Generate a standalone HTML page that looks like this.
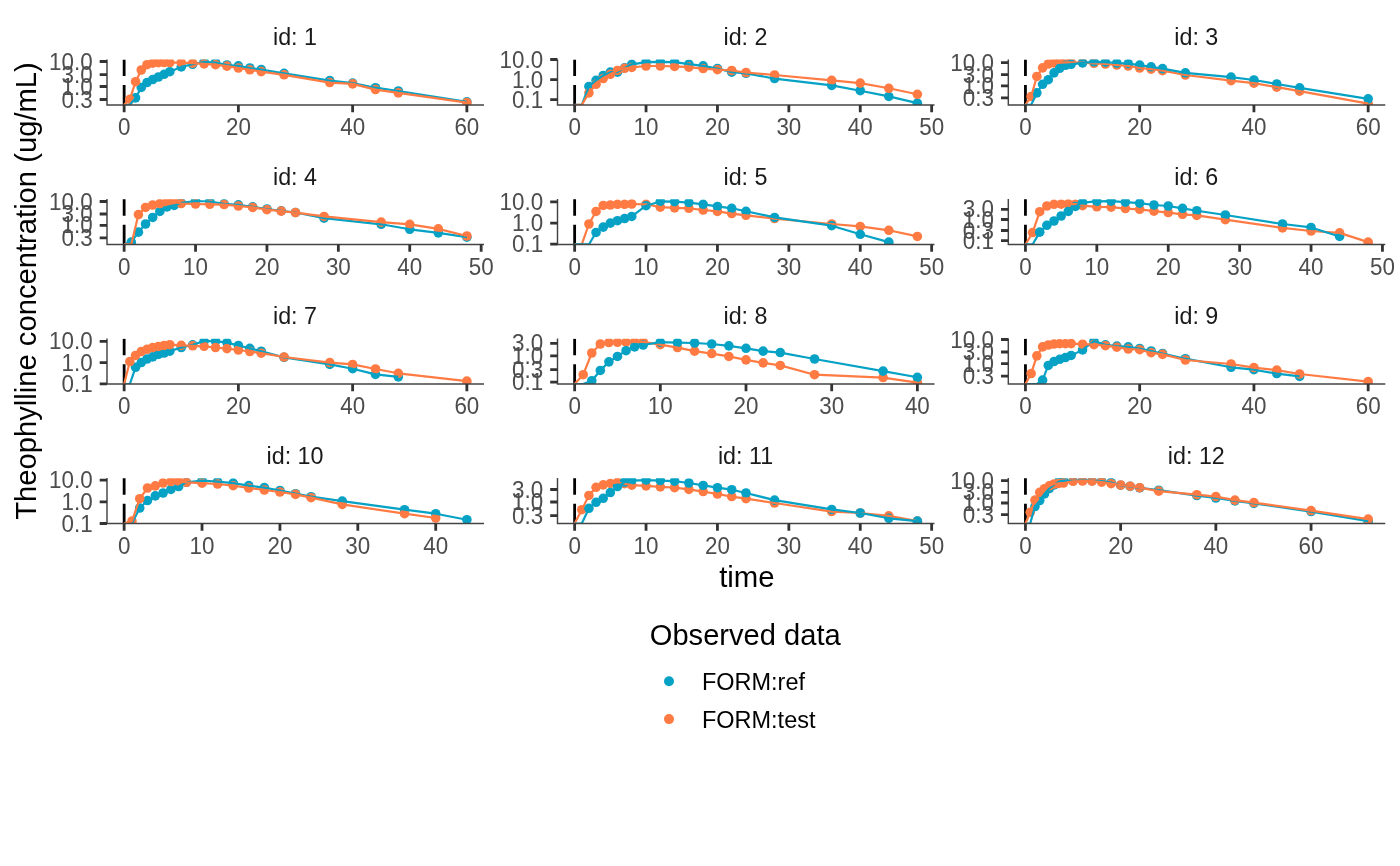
<!DOCTYPE html>
<html lang="en"><head><meta charset="utf-8"><title>Theophylline concentration</title>
<style>html,body{margin:0;padding:0;background:#fff;}body{width:1400px;height:866px;overflow:hidden;font-family:"Liberation Sans",sans-serif;}svg{display:block;}svg text{font-family:"Liberation Sans",sans-serif;}</style>
</head><body>
<svg width="1400" height="866" viewBox="0 0 1400 866">
<rect width="1400" height="866" fill="#fff"/>
<defs>
<clipPath id="c1"><rect x="107" y="59.6" width="377" height="45.3"/></clipPath>
<clipPath id="c2"><rect x="557.5" y="59.6" width="377" height="45.3"/></clipPath>
<clipPath id="c3"><rect x="1008.3" y="59.6" width="377" height="45.3"/></clipPath>
<clipPath id="c4"><rect x="107" y="199.15" width="377" height="45.3"/></clipPath>
<clipPath id="c5"><rect x="557.5" y="199.15" width="377" height="45.3"/></clipPath>
<clipPath id="c6"><rect x="1008.3" y="199.15" width="377" height="45.3"/></clipPath>
<clipPath id="c7"><rect x="107" y="338.7" width="377" height="45.3"/></clipPath>
<clipPath id="c8"><rect x="557.5" y="338.7" width="377" height="45.3"/></clipPath>
<clipPath id="c9"><rect x="1008.3" y="338.7" width="377" height="45.3"/></clipPath>
<clipPath id="c10"><rect x="107" y="478.2" width="377" height="45.3"/></clipPath>
<clipPath id="c11"><rect x="557.5" y="478.2" width="377" height="45.3"/></clipPath>
<clipPath id="c12"><rect x="1008.3" y="478.2" width="377" height="45.3"/></clipPath>
</defs>
<g id="p1">
<text transform="translate(295,45) scale(1,1)" font-size="23.3" fill="#1A1A1A" text-anchor="middle">id: 1</text>
<g clip-path="url(#c1)">
<line x1="124.14" x2="124.14" y1="59.4" y2="104.9" stroke="#000" stroke-width="2.8" stroke-dasharray="16.7 9 40 9"/>
<circle cx="135.56" cy="97.86" r="4.8" fill="#06A2C5"/>
<circle cx="141.28" cy="87.43" r="4.8" fill="#06A2C5"/>
<circle cx="146.99" cy="82.57" r="4.8" fill="#06A2C5"/>
<circle cx="152.7" cy="79.57" r="4.8" fill="#06A2C5"/>
<circle cx="158.41" cy="77" r="4.8" fill="#06A2C5"/>
<circle cx="164.13" cy="74.29" r="4.8" fill="#06A2C5"/>
<circle cx="169.84" cy="71.71" r="4.8" fill="#06A2C5"/>
<circle cx="181.26" cy="66.9" r="4.8" fill="#06A2C5"/>
<circle cx="192.69" cy="64.29" r="4.8" fill="#06A2C5"/>
<circle cx="204.11" cy="61.8" r="4.8" fill="#06A2C5"/>
<circle cx="215.53" cy="62.5" r="4.8" fill="#06A2C5"/>
<circle cx="226.96" cy="65" r="4.8" fill="#06A2C5"/>
<circle cx="238.38" cy="65.8" r="4.8" fill="#06A2C5"/>
<circle cx="249.81" cy="68" r="4.8" fill="#06A2C5"/>
<circle cx="261.23" cy="69.6" r="4.8" fill="#06A2C5"/>
<circle cx="284.08" cy="73.3" r="4.8" fill="#06A2C5"/>
<circle cx="329.78" cy="80.57" r="4.8" fill="#06A2C5"/>
<circle cx="352.63" cy="83.14" r="4.8" fill="#06A2C5"/>
<circle cx="375.48" cy="87.71" r="4.8" fill="#06A2C5"/>
<circle cx="398.32" cy="91" r="4.8" fill="#06A2C5"/>
<circle cx="466.87" cy="101.86" r="4.8" fill="#06A2C5"/>
<circle cx="129.85" cy="99.29" r="4.8" fill="#FF7B43"/>
<circle cx="135.56" cy="81.71" r="4.8" fill="#FF7B43"/>
<circle cx="141.28" cy="70" r="4.8" fill="#FF7B43"/>
<circle cx="146.99" cy="64.71" r="4.8" fill="#FF7B43"/>
<circle cx="152.7" cy="63.14" r="4.8" fill="#FF7B43"/>
<circle cx="158.41" cy="62.71" r="4.8" fill="#FF7B43"/>
<circle cx="164.13" cy="62.57" r="4.8" fill="#FF7B43"/>
<circle cx="169.84" cy="62.57" r="4.8" fill="#FF7B43"/>
<circle cx="181.26" cy="62.71" r="4.8" fill="#FF7B43"/>
<circle cx="192.69" cy="63.14" r="4.8" fill="#FF7B43"/>
<circle cx="204.11" cy="63.86" r="4.8" fill="#FF7B43"/>
<circle cx="215.53" cy="64.71" r="4.8" fill="#FF7B43"/>
<circle cx="226.96" cy="66.14" r="4.8" fill="#FF7B43"/>
<circle cx="238.38" cy="68" r="4.8" fill="#FF7B43"/>
<circle cx="249.81" cy="69.8" r="4.8" fill="#FF7B43"/>
<circle cx="261.23" cy="71.6" r="4.8" fill="#FF7B43"/>
<circle cx="284.08" cy="74.8" r="4.8" fill="#FF7B43"/>
<circle cx="329.78" cy="82.57" r="4.8" fill="#FF7B43"/>
<circle cx="352.63" cy="83.86" r="4.8" fill="#FF7B43"/>
<circle cx="375.48" cy="89.57" r="4.8" fill="#FF7B43"/>
<circle cx="398.32" cy="92.86" r="4.8" fill="#FF7B43"/>
<circle cx="466.87" cy="102.57" r="4.8" fill="#FF7B43"/>
<polyline points="124.14,104.9 129.85,104.9 135.56,97.86 141.28,87.43 146.99,82.57 152.7,79.57 158.41,77 164.13,74.29 169.84,71.71 181.26,66.9 192.69,64.29 204.11,61.8 215.53,62.5 226.96,65 238.38,65.8 249.81,68 261.23,69.6 284.08,73.3 329.78,80.57 352.63,83.14 375.48,87.71 398.32,91 466.87,101.86" fill="none" stroke="#06A2C5" stroke-width="2.2" stroke-linejoin="round" stroke-linecap="butt"/>
<polyline points="124.14,104.9 129.85,99.29 135.56,81.71 141.28,70 146.99,64.71 152.7,63.14 158.41,62.71 164.13,62.57 169.84,62.57 181.26,62.71 192.69,63.14 204.11,63.86 215.53,64.71 226.96,66.14 238.38,68 249.81,69.8 261.23,71.6 284.08,74.8 329.78,82.57 352.63,83.86 375.48,89.57 398.32,92.86 466.87,102.57" fill="none" stroke="#FF7B43" stroke-width="2.2" stroke-linejoin="round" stroke-linecap="butt"/>
</g>
<path d="M107 59.4V104.9H484" fill="none" stroke="#444444" stroke-width="1.45"/>
<path d="M99.7 61.5H107M99.7 74.55H107M99.7 86.5H107M99.7 99.5H107M124.14 104.9V112.2M238.38 104.9V112.2M352.63 104.9V112.2M466.87 104.9V112.2" stroke="#333333" stroke-width="2.8" fill="none"/>
<text transform="translate(92.6,69.5) scale(1,1.05)" font-size="22.4" fill="#4D4D4D" text-anchor="end">10.0</text>
<text transform="translate(92.6,82.55) scale(1,1.05)" font-size="22.4" fill="#4D4D4D" text-anchor="end">3.0</text>
<text transform="translate(92.6,94.5) scale(1,1.05)" font-size="22.4" fill="#4D4D4D" text-anchor="end">1.0</text>
<text transform="translate(92.6,107.5) scale(1,1.05)" font-size="22.4" fill="#4D4D4D" text-anchor="end">0.3</text>
<text transform="translate(124.14,135.3) scale(1,1.05)" font-size="22.4" fill="#4D4D4D" text-anchor="middle">0</text>
<text transform="translate(238.38,135.3) scale(1,1.05)" font-size="22.4" fill="#4D4D4D" text-anchor="middle">20</text>
<text transform="translate(352.63,135.3) scale(1,1.05)" font-size="22.4" fill="#4D4D4D" text-anchor="middle">40</text>
<text transform="translate(466.87,135.3) scale(1,1.05)" font-size="22.4" fill="#4D4D4D" text-anchor="middle">60</text>
</g>
<g id="p2">
<text transform="translate(745.5,45) scale(1,1)" font-size="23.3" fill="#1A1A1A" text-anchor="middle">id: 2</text>
<g clip-path="url(#c2)">
<line x1="574.64" x2="574.64" y1="59.4" y2="104.9" stroke="#000" stroke-width="2.8" stroke-dasharray="16.7 9 40 9"/>
<circle cx="588.92" cy="86.43" r="4.8" fill="#06A2C5"/>
<circle cx="596.06" cy="80.29" r="4.8" fill="#06A2C5"/>
<circle cx="603.2" cy="75.43" r="4.8" fill="#06A2C5"/>
<circle cx="610.34" cy="72.14" r="4.8" fill="#06A2C5"/>
<circle cx="617.48" cy="72.14" r="4.8" fill="#06A2C5"/>
<circle cx="624.62" cy="67.86" r="4.8" fill="#06A2C5"/>
<circle cx="631.76" cy="64.3" r="4.8" fill="#06A2C5"/>
<circle cx="646.04" cy="62.14" r="4.8" fill="#06A2C5"/>
<circle cx="660.32" cy="61.86" r="4.8" fill="#06A2C5"/>
<circle cx="674.6" cy="62.14" r="4.8" fill="#06A2C5"/>
<circle cx="688.88" cy="64.2" r="4.8" fill="#06A2C5"/>
<circle cx="703.16" cy="65.9" r="4.8" fill="#06A2C5"/>
<circle cx="717.44" cy="68.5" r="4.8" fill="#06A2C5"/>
<circle cx="731.72" cy="72.14" r="4.8" fill="#06A2C5"/>
<circle cx="746" cy="73.3" r="4.8" fill="#06A2C5"/>
<circle cx="774.57" cy="78.57" r="4.8" fill="#06A2C5"/>
<circle cx="831.69" cy="85.43" r="4.8" fill="#06A2C5"/>
<circle cx="860.25" cy="90.71" r="4.8" fill="#06A2C5"/>
<circle cx="888.81" cy="96.43" r="4.8" fill="#06A2C5"/>
<circle cx="917.37" cy="103.14" r="4.8" fill="#06A2C5"/>
<circle cx="588.92" cy="92.86" r="4.8" fill="#FF7B43"/>
<circle cx="596.06" cy="84.29" r="4.8" fill="#FF7B43"/>
<circle cx="603.2" cy="78.57" r="4.8" fill="#FF7B43"/>
<circle cx="610.34" cy="74.29" r="4.8" fill="#FF7B43"/>
<circle cx="617.48" cy="70.43" r="4.8" fill="#FF7B43"/>
<circle cx="624.62" cy="68.29" r="4.8" fill="#FF7B43"/>
<circle cx="631.76" cy="67.43" r="4.8" fill="#FF7B43"/>
<circle cx="646.04" cy="66" r="4.8" fill="#FF7B43"/>
<circle cx="660.32" cy="66" r="4.8" fill="#FF7B43"/>
<circle cx="674.6" cy="66.43" r="4.8" fill="#FF7B43"/>
<circle cx="688.88" cy="67.14" r="4.8" fill="#FF7B43"/>
<circle cx="703.16" cy="68.57" r="4.8" fill="#FF7B43"/>
<circle cx="717.44" cy="69.71" r="4.8" fill="#FF7B43"/>
<circle cx="731.72" cy="70.5" r="4.8" fill="#FF7B43"/>
<circle cx="746" cy="72.5" r="4.8" fill="#FF7B43"/>
<circle cx="774.57" cy="75" r="4.8" fill="#FF7B43"/>
<circle cx="831.69" cy="80.29" r="4.8" fill="#FF7B43"/>
<circle cx="860.25" cy="83.14" r="4.8" fill="#FF7B43"/>
<circle cx="888.81" cy="88.29" r="4.8" fill="#FF7B43"/>
<circle cx="917.37" cy="94.29" r="4.8" fill="#FF7B43"/>
<polyline points="574.64,104.9 581.78,104.9 588.92,86.43 596.06,80.29 603.2,75.43 610.34,72.14 617.48,72.14 624.62,67.86 631.76,64.3 646.04,62.14 660.32,61.86 674.6,62.14 688.88,64.2 703.16,65.9 717.44,68.5 731.72,72.14 746,73.3 774.57,78.57 831.69,85.43 860.25,90.71 888.81,96.43 917.37,103.14" fill="none" stroke="#06A2C5" stroke-width="2.2" stroke-linejoin="round" stroke-linecap="butt"/>
<polyline points="574.64,104.9 581.78,104.9 588.92,92.86 596.06,84.29 603.2,78.57 610.34,74.29 617.48,70.43 624.62,68.29 631.76,67.43 646.04,66 660.32,66 674.6,66.43 688.88,67.14 703.16,68.57 717.44,69.71 731.72,70.5 746,72.5 774.57,75 831.69,80.29 860.25,83.14 888.81,88.29 917.37,94.29" fill="none" stroke="#FF7B43" stroke-width="2.2" stroke-linejoin="round" stroke-linecap="butt"/>
</g>
<path d="M557.5 59.4V104.9H934.5" fill="none" stroke="#444444" stroke-width="1.45"/>
<path d="M550.2 59.5H557.5M550.2 79.6H557.5M550.2 99.7H557.5M574.64 104.9V112.2M646.04 104.9V112.2M717.44 104.9V112.2M788.85 104.9V112.2M860.25 104.9V112.2M931.65 104.9V112.2" stroke="#333333" stroke-width="2.8" fill="none"/>
<text transform="translate(543.1,67.5) scale(1,1.05)" font-size="22.4" fill="#4D4D4D" text-anchor="end">10.0</text>
<text transform="translate(543.1,87.6) scale(1,1.05)" font-size="22.4" fill="#4D4D4D" text-anchor="end">1.0</text>
<text transform="translate(543.1,107.7) scale(1,1.05)" font-size="22.4" fill="#4D4D4D" text-anchor="end">0.1</text>
<text transform="translate(574.64,135.3) scale(1,1.05)" font-size="22.4" fill="#4D4D4D" text-anchor="middle">0</text>
<text transform="translate(646.04,135.3) scale(1,1.05)" font-size="22.4" fill="#4D4D4D" text-anchor="middle">10</text>
<text transform="translate(717.44,135.3) scale(1,1.05)" font-size="22.4" fill="#4D4D4D" text-anchor="middle">20</text>
<text transform="translate(788.85,135.3) scale(1,1.05)" font-size="22.4" fill="#4D4D4D" text-anchor="middle">30</text>
<text transform="translate(860.25,135.3) scale(1,1.05)" font-size="22.4" fill="#4D4D4D" text-anchor="middle">40</text>
<text transform="translate(931.65,135.3) scale(1,1.05)" font-size="22.4" fill="#4D4D4D" text-anchor="middle">50</text>
</g>
<g id="p3">
<text transform="translate(1196.3,45) scale(1,1)" font-size="23.3" fill="#1A1A1A" text-anchor="middle">id: 3</text>
<g clip-path="url(#c3)">
<line x1="1025.44" x2="1025.44" y1="59.4" y2="104.9" stroke="#000" stroke-width="2.8" stroke-dasharray="16.7 9 40 9"/>
<circle cx="1031.15" cy="96.43" r="4.8" fill="#FF7B43"/>
<circle cx="1036.86" cy="76.43" r="4.8" fill="#FF7B43"/>
<circle cx="1042.58" cy="67.86" r="4.8" fill="#FF7B43"/>
<circle cx="1048.29" cy="64" r="4.8" fill="#FF7B43"/>
<circle cx="1054" cy="62.86" r="4.8" fill="#FF7B43"/>
<circle cx="1059.71" cy="62.57" r="4.8" fill="#FF7B43"/>
<circle cx="1065.43" cy="62.43" r="4.8" fill="#FF7B43"/>
<circle cx="1071.14" cy="62.43" r="4.8" fill="#FF7B43"/>
<circle cx="1082.56" cy="62.6" r="4.8" fill="#FF7B43"/>
<circle cx="1093.99" cy="63.3" r="4.8" fill="#FF7B43"/>
<circle cx="1105.41" cy="64" r="4.8" fill="#FF7B43"/>
<circle cx="1116.83" cy="65" r="4.8" fill="#FF7B43"/>
<circle cx="1128.26" cy="66" r="4.8" fill="#FF7B43"/>
<circle cx="1139.68" cy="68" r="4.8" fill="#FF7B43"/>
<circle cx="1151.11" cy="69.2" r="4.8" fill="#FF7B43"/>
<circle cx="1162.53" cy="70.7" r="4.8" fill="#FF7B43"/>
<circle cx="1185.38" cy="75" r="4.8" fill="#FF7B43"/>
<circle cx="1231.08" cy="80.71" r="4.8" fill="#FF7B43"/>
<circle cx="1253.93" cy="83.14" r="4.8" fill="#FF7B43"/>
<circle cx="1276.78" cy="87.14" r="4.8" fill="#FF7B43"/>
<circle cx="1299.62" cy="91.14" r="4.8" fill="#FF7B43"/>
<circle cx="1368.17" cy="103.57" r="4.8" fill="#FF7B43"/>
<circle cx="1036.86" cy="92.86" r="4.8" fill="#06A2C5"/>
<circle cx="1042.58" cy="84.29" r="4.8" fill="#06A2C5"/>
<circle cx="1048.29" cy="79.71" r="4.8" fill="#06A2C5"/>
<circle cx="1054" cy="72.86" r="4.8" fill="#06A2C5"/>
<circle cx="1059.71" cy="68.29" r="4.8" fill="#06A2C5"/>
<circle cx="1065.43" cy="65.29" r="4.8" fill="#06A2C5"/>
<circle cx="1071.14" cy="64.29" r="4.8" fill="#06A2C5"/>
<circle cx="1082.56" cy="62.86" r="4.8" fill="#06A2C5"/>
<circle cx="1093.99" cy="61.8" r="4.8" fill="#06A2C5"/>
<circle cx="1105.41" cy="62.2" r="4.8" fill="#06A2C5"/>
<circle cx="1116.83" cy="63" r="4.8" fill="#06A2C5"/>
<circle cx="1128.26" cy="63.7" r="4.8" fill="#06A2C5"/>
<circle cx="1139.68" cy="65.1" r="4.8" fill="#06A2C5"/>
<circle cx="1151.11" cy="66.8" r="4.8" fill="#06A2C5"/>
<circle cx="1162.53" cy="68.6" r="4.8" fill="#06A2C5"/>
<circle cx="1185.38" cy="72.8" r="4.8" fill="#06A2C5"/>
<circle cx="1231.08" cy="77.14" r="4.8" fill="#06A2C5"/>
<circle cx="1253.93" cy="80" r="4.8" fill="#06A2C5"/>
<circle cx="1276.78" cy="84" r="4.8" fill="#06A2C5"/>
<circle cx="1299.62" cy="87.86" r="4.8" fill="#06A2C5"/>
<circle cx="1368.17" cy="98.86" r="4.8" fill="#06A2C5"/>
<polyline points="1025.44,104.9 1031.15,96.43 1036.86,76.43 1042.58,67.86 1048.29,64 1054,62.86 1059.71,62.57 1065.43,62.43 1071.14,62.43 1082.56,62.6 1093.99,63.3 1105.41,64 1116.83,65 1128.26,66 1139.68,68 1151.11,69.2 1162.53,70.7 1185.38,75 1231.08,80.71 1253.93,83.14 1276.78,87.14 1299.62,91.14 1368.17,103.57" fill="none" stroke="#FF7B43" stroke-width="2.2" stroke-linejoin="round" stroke-linecap="butt"/>
<polyline points="1025.44,104.9 1031.15,104.9 1036.86,92.86 1042.58,84.29 1048.29,79.71 1054,72.86 1059.71,68.29 1065.43,65.29 1071.14,64.29 1082.56,62.86 1093.99,61.8 1105.41,62.2 1116.83,63 1128.26,63.7 1139.68,65.1 1151.11,66.8 1162.53,68.6 1185.38,72.8 1231.08,77.14 1253.93,80 1276.78,84 1299.62,87.86 1368.17,98.86" fill="none" stroke="#06A2C5" stroke-width="2.2" stroke-linejoin="round" stroke-linecap="butt"/>
</g>
<path d="M1008.3 59.4V104.9H1385.3" fill="none" stroke="#444444" stroke-width="1.45"/>
<path d="M1001 62.55H1008.3M1001 74.7H1008.3M1001 85.8H1008.3M1001 97.9H1008.3M1025.44 104.9V112.2M1139.68 104.9V112.2M1253.93 104.9V112.2M1368.17 104.9V112.2" stroke="#333333" stroke-width="2.8" fill="none"/>
<text transform="translate(993.9,70.55) scale(1,1.05)" font-size="22.4" fill="#4D4D4D" text-anchor="end">10.0</text>
<text transform="translate(993.9,82.7) scale(1,1.05)" font-size="22.4" fill="#4D4D4D" text-anchor="end">3.0</text>
<text transform="translate(993.9,93.8) scale(1,1.05)" font-size="22.4" fill="#4D4D4D" text-anchor="end">1.0</text>
<text transform="translate(993.9,105.9) scale(1,1.05)" font-size="22.4" fill="#4D4D4D" text-anchor="end">0.3</text>
<text transform="translate(1025.44,135.3) scale(1,1.05)" font-size="22.4" fill="#4D4D4D" text-anchor="middle">0</text>
<text transform="translate(1139.68,135.3) scale(1,1.05)" font-size="22.4" fill="#4D4D4D" text-anchor="middle">20</text>
<text transform="translate(1253.93,135.3) scale(1,1.05)" font-size="22.4" fill="#4D4D4D" text-anchor="middle">40</text>
<text transform="translate(1368.17,135.3) scale(1,1.05)" font-size="22.4" fill="#4D4D4D" text-anchor="middle">60</text>
</g>
<g id="p4">
<text transform="translate(295,184.55) scale(1,1)" font-size="23.3" fill="#1A1A1A" text-anchor="middle">id: 4</text>
<g clip-path="url(#c4)">
<line x1="124.14" x2="124.14" y1="198.95" y2="244.45" stroke="#000" stroke-width="2.8" stroke-dasharray="16.7 9 40 9"/>
<circle cx="131.28" cy="242.14" r="4.8" fill="#06A2C5"/>
<circle cx="138.42" cy="232.14" r="4.8" fill="#06A2C5"/>
<circle cx="145.56" cy="224" r="4.8" fill="#06A2C5"/>
<circle cx="152.7" cy="217.43" r="4.8" fill="#06A2C5"/>
<circle cx="159.84" cy="211.43" r="4.8" fill="#06A2C5"/>
<circle cx="166.98" cy="206.86" r="4.8" fill="#06A2C5"/>
<circle cx="174.12" cy="205.43" r="4.8" fill="#06A2C5"/>
<circle cx="181.26" cy="202.86" r="4.8" fill="#06A2C5"/>
<circle cx="195.54" cy="201" r="4.8" fill="#06A2C5"/>
<circle cx="209.82" cy="201.5" r="4.8" fill="#06A2C5"/>
<circle cx="224.1" cy="203.8" r="4.8" fill="#06A2C5"/>
<circle cx="238.38" cy="204.8" r="4.8" fill="#06A2C5"/>
<circle cx="252.66" cy="206.8" r="4.8" fill="#06A2C5"/>
<circle cx="266.94" cy="209" r="4.8" fill="#06A2C5"/>
<circle cx="281.22" cy="210.8" r="4.8" fill="#06A2C5"/>
<circle cx="295.5" cy="212.5" r="4.8" fill="#06A2C5"/>
<circle cx="324.07" cy="218.2" r="4.8" fill="#06A2C5"/>
<circle cx="381.19" cy="224.29" r="4.8" fill="#06A2C5"/>
<circle cx="409.75" cy="229.29" r="4.8" fill="#06A2C5"/>
<circle cx="438.31" cy="232.86" r="4.8" fill="#06A2C5"/>
<circle cx="466.87" cy="237.14" r="4.8" fill="#06A2C5"/>
<circle cx="138.42" cy="214.57" r="4.8" fill="#FF7B43"/>
<circle cx="145.56" cy="207.43" r="4.8" fill="#FF7B43"/>
<circle cx="152.7" cy="205" r="4.8" fill="#FF7B43"/>
<circle cx="159.84" cy="203.57" r="4.8" fill="#FF7B43"/>
<circle cx="166.98" cy="202.14" r="4.8" fill="#FF7B43"/>
<circle cx="174.12" cy="201.71" r="4.8" fill="#FF7B43"/>
<circle cx="181.26" cy="203.57" r="4.8" fill="#FF7B43"/>
<circle cx="195.54" cy="204" r="4.8" fill="#FF7B43"/>
<circle cx="209.82" cy="204.29" r="4.8" fill="#FF7B43"/>
<circle cx="224.1" cy="204.57" r="4.8" fill="#FF7B43"/>
<circle cx="238.38" cy="206" r="4.8" fill="#FF7B43"/>
<circle cx="252.66" cy="207.43" r="4.8" fill="#FF7B43"/>
<circle cx="266.94" cy="209.71" r="4.8" fill="#FF7B43"/>
<circle cx="281.22" cy="211.14" r="4.8" fill="#FF7B43"/>
<circle cx="295.5" cy="212.57" r="4.8" fill="#FF7B43"/>
<circle cx="324.07" cy="216.43" r="4.8" fill="#FF7B43"/>
<circle cx="381.19" cy="222.14" r="4.8" fill="#FF7B43"/>
<circle cx="409.75" cy="224.29" r="4.8" fill="#FF7B43"/>
<circle cx="438.31" cy="228.86" r="4.8" fill="#FF7B43"/>
<circle cx="466.87" cy="236" r="4.8" fill="#FF7B43"/>
<polyline points="124.14,244.45 131.28,242.14 138.42,232.14 145.56,224 152.7,217.43 159.84,211.43 166.98,206.86 174.12,205.43 181.26,202.86 195.54,201 209.82,201.5 224.1,203.8 238.38,204.8 252.66,206.8 266.94,209 281.22,210.8 295.5,212.5 324.07,218.2 381.19,224.29 409.75,229.29 438.31,232.86 466.87,237.14" fill="none" stroke="#06A2C5" stroke-width="2.2" stroke-linejoin="round" stroke-linecap="butt"/>
<polyline points="124.14,244.45 131.28,244.45 138.42,214.57 145.56,207.43 152.7,205 159.84,203.57 166.98,202.14 174.12,201.71 181.26,203.57 195.54,204 209.82,204.29 224.1,204.57 238.38,206 252.66,207.43 266.94,209.71 281.22,211.14 295.5,212.57 324.07,216.43 381.19,222.14 409.75,224.29 438.31,228.86 466.87,236" fill="none" stroke="#FF7B43" stroke-width="2.2" stroke-linejoin="round" stroke-linecap="butt"/>
</g>
<path d="M107 198.95V244.45H484" fill="none" stroke="#444444" stroke-width="1.45"/>
<path d="M99.7 201.5H107M99.7 214H107M99.7 225.4H107M99.7 237.8H107M124.14 244.45V251.75M195.54 244.45V251.75M266.94 244.45V251.75M338.35 244.45V251.75M409.75 244.45V251.75M481.15 244.45V251.75" stroke="#333333" stroke-width="2.8" fill="none"/>
<text transform="translate(92.6,209.5) scale(1,1.05)" font-size="22.4" fill="#4D4D4D" text-anchor="end">10.0</text>
<text transform="translate(92.6,222) scale(1,1.05)" font-size="22.4" fill="#4D4D4D" text-anchor="end">3.0</text>
<text transform="translate(92.6,233.4) scale(1,1.05)" font-size="22.4" fill="#4D4D4D" text-anchor="end">1.0</text>
<text transform="translate(92.6,245.8) scale(1,1.05)" font-size="22.4" fill="#4D4D4D" text-anchor="end">0.3</text>
<text transform="translate(124.14,274.85) scale(1,1.05)" font-size="22.4" fill="#4D4D4D" text-anchor="middle">0</text>
<text transform="translate(195.54,274.85) scale(1,1.05)" font-size="22.4" fill="#4D4D4D" text-anchor="middle">10</text>
<text transform="translate(266.94,274.85) scale(1,1.05)" font-size="22.4" fill="#4D4D4D" text-anchor="middle">20</text>
<text transform="translate(338.35,274.85) scale(1,1.05)" font-size="22.4" fill="#4D4D4D" text-anchor="middle">30</text>
<text transform="translate(409.75,274.85) scale(1,1.05)" font-size="22.4" fill="#4D4D4D" text-anchor="middle">40</text>
<text transform="translate(481.15,274.85) scale(1,1.05)" font-size="22.4" fill="#4D4D4D" text-anchor="middle">50</text>
</g>
<g id="p5">
<text transform="translate(745.5,184.55) scale(1,1)" font-size="23.3" fill="#1A1A1A" text-anchor="middle">id: 5</text>
<g clip-path="url(#c5)">
<line x1="574.64" x2="574.64" y1="198.95" y2="244.45" stroke="#000" stroke-width="2.8" stroke-dasharray="16.7 9 40 9"/>
<circle cx="588.92" cy="224" r="4.8" fill="#FF7B43"/>
<circle cx="596.06" cy="211.43" r="4.8" fill="#FF7B43"/>
<circle cx="603.2" cy="205.43" r="4.8" fill="#FF7B43"/>
<circle cx="610.34" cy="205" r="4.8" fill="#FF7B43"/>
<circle cx="617.48" cy="204.29" r="4.8" fill="#FF7B43"/>
<circle cx="624.62" cy="204.29" r="4.8" fill="#FF7B43"/>
<circle cx="631.76" cy="204" r="4.8" fill="#FF7B43"/>
<circle cx="646.04" cy="204.29" r="4.8" fill="#FF7B43"/>
<circle cx="660.32" cy="207.14" r="4.8" fill="#FF7B43"/>
<circle cx="674.6" cy="207.86" r="4.8" fill="#FF7B43"/>
<circle cx="688.88" cy="208.29" r="4.8" fill="#FF7B43"/>
<circle cx="703.16" cy="210" r="4.8" fill="#FF7B43"/>
<circle cx="717.44" cy="211.43" r="4.8" fill="#FF7B43"/>
<circle cx="731.72" cy="213.57" r="4.8" fill="#FF7B43"/>
<circle cx="746" cy="215.29" r="4.8" fill="#FF7B43"/>
<circle cx="774.57" cy="218.57" r="4.8" fill="#FF7B43"/>
<circle cx="831.69" cy="224" r="4.8" fill="#FF7B43"/>
<circle cx="860.25" cy="226.43" r="4.8" fill="#FF7B43"/>
<circle cx="888.81" cy="230.29" r="4.8" fill="#FF7B43"/>
<circle cx="917.37" cy="236.43" r="4.8" fill="#FF7B43"/>
<circle cx="596.06" cy="232.43" r="4.8" fill="#06A2C5"/>
<circle cx="603.2" cy="227.14" r="4.8" fill="#06A2C5"/>
<circle cx="610.34" cy="223.14" r="4.8" fill="#06A2C5"/>
<circle cx="617.48" cy="220.71" r="4.8" fill="#06A2C5"/>
<circle cx="624.62" cy="218.57" r="4.8" fill="#06A2C5"/>
<circle cx="631.76" cy="216.43" r="4.8" fill="#06A2C5"/>
<circle cx="646.04" cy="205.71" r="4.8" fill="#06A2C5"/>
<circle cx="660.32" cy="201.43" r="4.8" fill="#06A2C5"/>
<circle cx="674.6" cy="201.71" r="4.8" fill="#06A2C5"/>
<circle cx="688.88" cy="202.57" r="4.8" fill="#06A2C5"/>
<circle cx="703.16" cy="204.29" r="4.8" fill="#06A2C5"/>
<circle cx="717.44" cy="206.43" r="4.8" fill="#06A2C5"/>
<circle cx="731.72" cy="208.29" r="4.8" fill="#06A2C5"/>
<circle cx="746" cy="211.29" r="4.8" fill="#06A2C5"/>
<circle cx="774.57" cy="217.43" r="4.8" fill="#06A2C5"/>
<circle cx="831.69" cy="225.71" r="4.8" fill="#06A2C5"/>
<circle cx="860.25" cy="234.29" r="4.8" fill="#06A2C5"/>
<circle cx="888.81" cy="242.14" r="4.8" fill="#06A2C5"/>
<polyline points="574.64,244.45 581.78,244.45 588.92,224 596.06,211.43 603.2,205.43 610.34,205 617.48,204.29 624.62,204.29 631.76,204 646.04,204.29 660.32,207.14 674.6,207.86 688.88,208.29 703.16,210 717.44,211.43 731.72,213.57 746,215.29 774.57,218.57 831.69,224 860.25,226.43 888.81,230.29 917.37,236.43" fill="none" stroke="#FF7B43" stroke-width="2.2" stroke-linejoin="round" stroke-linecap="butt"/>
<polyline points="574.64,244.45 581.78,244.45 588.92,244.45 596.06,232.43 603.2,227.14 610.34,223.14 617.48,220.71 624.62,218.57 631.76,216.43 646.04,205.71 660.32,201.43 674.6,201.71 688.88,202.57 703.16,204.29 717.44,206.43 731.72,208.29 746,211.29 774.57,217.43 831.69,225.71 860.25,234.29 888.81,242.14" fill="none" stroke="#06A2C5" stroke-width="2.2" stroke-linejoin="round" stroke-linecap="butt"/>
</g>
<path d="M557.5 198.95V244.45H934.5" fill="none" stroke="#444444" stroke-width="1.45"/>
<path d="M550.2 201.9H557.5M550.2 223.1H557.5M550.2 244.2H557.5M574.64 244.45V251.75M646.04 244.45V251.75M717.44 244.45V251.75M788.85 244.45V251.75M860.25 244.45V251.75M931.65 244.45V251.75" stroke="#333333" stroke-width="2.8" fill="none"/>
<text transform="translate(543.1,209.9) scale(1,1.05)" font-size="22.4" fill="#4D4D4D" text-anchor="end">10.0</text>
<text transform="translate(543.1,231.1) scale(1,1.05)" font-size="22.4" fill="#4D4D4D" text-anchor="end">1.0</text>
<text transform="translate(543.1,252.2) scale(1,1.05)" font-size="22.4" fill="#4D4D4D" text-anchor="end">0.1</text>
<text transform="translate(574.64,274.85) scale(1,1.05)" font-size="22.4" fill="#4D4D4D" text-anchor="middle">0</text>
<text transform="translate(646.04,274.85) scale(1,1.05)" font-size="22.4" fill="#4D4D4D" text-anchor="middle">10</text>
<text transform="translate(717.44,274.85) scale(1,1.05)" font-size="22.4" fill="#4D4D4D" text-anchor="middle">20</text>
<text transform="translate(788.85,274.85) scale(1,1.05)" font-size="22.4" fill="#4D4D4D" text-anchor="middle">30</text>
<text transform="translate(860.25,274.85) scale(1,1.05)" font-size="22.4" fill="#4D4D4D" text-anchor="middle">40</text>
<text transform="translate(931.65,274.85) scale(1,1.05)" font-size="22.4" fill="#4D4D4D" text-anchor="middle">50</text>
</g>
<g id="p6">
<text transform="translate(1196.3,184.55) scale(1,1)" font-size="23.3" fill="#1A1A1A" text-anchor="middle">id: 6</text>
<g clip-path="url(#c6)">
<line x1="1025.44" x2="1025.44" y1="198.95" y2="244.45" stroke="#000" stroke-width="2.8" stroke-dasharray="16.7 9 40 9"/>
<circle cx="1032.58" cy="232.57" r="4.8" fill="#FF7B43"/>
<circle cx="1039.72" cy="211.71" r="4.8" fill="#FF7B43"/>
<circle cx="1046.86" cy="206" r="4.8" fill="#FF7B43"/>
<circle cx="1054" cy="204.29" r="4.8" fill="#FF7B43"/>
<circle cx="1061.14" cy="204.2" r="4.8" fill="#FF7B43"/>
<circle cx="1068.28" cy="204" r="4.8" fill="#FF7B43"/>
<circle cx="1075.42" cy="204.2" r="4.8" fill="#FF7B43"/>
<circle cx="1082.56" cy="205.6" r="4.8" fill="#FF7B43"/>
<circle cx="1096.84" cy="206.8" r="4.8" fill="#FF7B43"/>
<circle cx="1111.12" cy="207.1" r="4.8" fill="#FF7B43"/>
<circle cx="1125.4" cy="208.57" r="4.8" fill="#FF7B43"/>
<circle cx="1139.68" cy="209.29" r="4.8" fill="#FF7B43"/>
<circle cx="1153.96" cy="211.14" r="4.8" fill="#FF7B43"/>
<circle cx="1168.24" cy="212.57" r="4.8" fill="#FF7B43"/>
<circle cx="1182.52" cy="214.29" r="4.8" fill="#FF7B43"/>
<circle cx="1196.81" cy="215.43" r="4.8" fill="#FF7B43"/>
<circle cx="1225.37" cy="219.71" r="4.8" fill="#FF7B43"/>
<circle cx="1282.49" cy="227.86" r="4.8" fill="#FF7B43"/>
<circle cx="1311.05" cy="231" r="4.8" fill="#FF7B43"/>
<circle cx="1339.61" cy="232.86" r="4.8" fill="#FF7B43"/>
<circle cx="1368.17" cy="242.14" r="4.8" fill="#FF7B43"/>
<circle cx="1039.72" cy="232.14" r="4.8" fill="#06A2C5"/>
<circle cx="1046.86" cy="225.29" r="4.8" fill="#06A2C5"/>
<circle cx="1054" cy="221" r="4.8" fill="#06A2C5"/>
<circle cx="1061.14" cy="216" r="4.8" fill="#06A2C5"/>
<circle cx="1068.28" cy="211.43" r="4.8" fill="#06A2C5"/>
<circle cx="1075.42" cy="206.43" r="4.8" fill="#06A2C5"/>
<circle cx="1082.56" cy="202.57" r="4.8" fill="#06A2C5"/>
<circle cx="1096.84" cy="201.43" r="4.8" fill="#06A2C5"/>
<circle cx="1111.12" cy="201.14" r="4.8" fill="#06A2C5"/>
<circle cx="1125.4" cy="202.14" r="4.8" fill="#06A2C5"/>
<circle cx="1139.68" cy="203.14" r="4.8" fill="#06A2C5"/>
<circle cx="1153.96" cy="205" r="4.8" fill="#06A2C5"/>
<circle cx="1168.24" cy="206" r="4.8" fill="#06A2C5"/>
<circle cx="1182.52" cy="208.29" r="4.8" fill="#06A2C5"/>
<circle cx="1196.81" cy="210.71" r="4.8" fill="#06A2C5"/>
<circle cx="1225.37" cy="215" r="4.8" fill="#06A2C5"/>
<circle cx="1282.49" cy="224" r="4.8" fill="#06A2C5"/>
<circle cx="1311.05" cy="227.43" r="4.8" fill="#06A2C5"/>
<circle cx="1339.61" cy="236.43" r="4.8" fill="#06A2C5"/>
<polyline points="1025.44,244.45 1032.58,232.57 1039.72,211.71 1046.86,206 1054,204.29 1061.14,204.2 1068.28,204 1075.42,204.2 1082.56,205.6 1096.84,206.8 1111.12,207.1 1125.4,208.57 1139.68,209.29 1153.96,211.14 1168.24,212.57 1182.52,214.29 1196.81,215.43 1225.37,219.71 1282.49,227.86 1311.05,231 1339.61,232.86 1368.17,242.14" fill="none" stroke="#FF7B43" stroke-width="2.2" stroke-linejoin="round" stroke-linecap="butt"/>
<polyline points="1025.44,244.45 1032.58,244.45 1039.72,232.14 1046.86,225.29 1054,221 1061.14,216 1068.28,211.43 1075.42,206.43 1082.56,202.57 1096.84,201.43 1111.12,201.14 1125.4,202.14 1139.68,203.14 1153.96,205 1168.24,206 1182.52,208.29 1196.81,210.71 1225.37,215 1282.49,224 1311.05,227.43 1339.61,236.43" fill="none" stroke="#06A2C5" stroke-width="2.2" stroke-linejoin="round" stroke-linecap="butt"/>
</g>
<path d="M1008.3 198.95V244.45H1385.3" fill="none" stroke="#444444" stroke-width="1.45"/>
<path d="M1001 209.4H1008.3M1001 219.5H1008.3M1001 230.5H1008.3M1001 240.6H1008.3M1025.44 244.45V251.75M1096.84 244.45V251.75M1168.24 244.45V251.75M1239.65 244.45V251.75M1311.05 244.45V251.75M1382.45 244.45V251.75" stroke="#333333" stroke-width="2.8" fill="none"/>
<text transform="translate(993.9,217.4) scale(1,1.05)" font-size="22.4" fill="#4D4D4D" text-anchor="end">3.0</text>
<text transform="translate(993.9,227.5) scale(1,1.05)" font-size="22.4" fill="#4D4D4D" text-anchor="end">1.0</text>
<text transform="translate(993.9,238.5) scale(1,1.05)" font-size="22.4" fill="#4D4D4D" text-anchor="end">0.3</text>
<text transform="translate(993.9,248.6) scale(1,1.05)" font-size="22.4" fill="#4D4D4D" text-anchor="end">0.1</text>
<text transform="translate(1025.44,274.85) scale(1,1.05)" font-size="22.4" fill="#4D4D4D" text-anchor="middle">0</text>
<text transform="translate(1096.84,274.85) scale(1,1.05)" font-size="22.4" fill="#4D4D4D" text-anchor="middle">10</text>
<text transform="translate(1168.24,274.85) scale(1,1.05)" font-size="22.4" fill="#4D4D4D" text-anchor="middle">20</text>
<text transform="translate(1239.65,274.85) scale(1,1.05)" font-size="22.4" fill="#4D4D4D" text-anchor="middle">30</text>
<text transform="translate(1311.05,274.85) scale(1,1.05)" font-size="22.4" fill="#4D4D4D" text-anchor="middle">40</text>
<text transform="translate(1382.45,274.85) scale(1,1.05)" font-size="22.4" fill="#4D4D4D" text-anchor="middle">50</text>
</g>
<g id="p7">
<text transform="translate(295,324.1) scale(1,1)" font-size="23.3" fill="#1A1A1A" text-anchor="middle">id: 7</text>
<g clip-path="url(#c7)">
<line x1="124.14" x2="124.14" y1="338.5" y2="384" stroke="#000" stroke-width="2.8" stroke-dasharray="16.7 9 40 9"/>
<circle cx="135.56" cy="367.29" r="4.8" fill="#06A2C5"/>
<circle cx="141.28" cy="362.57" r="4.8" fill="#06A2C5"/>
<circle cx="146.99" cy="359" r="4.8" fill="#06A2C5"/>
<circle cx="152.7" cy="356.86" r="4.8" fill="#06A2C5"/>
<circle cx="158.41" cy="354.43" r="4.8" fill="#06A2C5"/>
<circle cx="164.13" cy="353" r="4.8" fill="#06A2C5"/>
<circle cx="169.84" cy="351.14" r="4.8" fill="#06A2C5"/>
<circle cx="181.26" cy="347.57" r="4.8" fill="#06A2C5"/>
<circle cx="192.69" cy="344.8" r="4.8" fill="#06A2C5"/>
<circle cx="204.11" cy="341.14" r="4.8" fill="#06A2C5"/>
<circle cx="215.53" cy="341.14" r="4.8" fill="#06A2C5"/>
<circle cx="226.96" cy="342.57" r="4.8" fill="#06A2C5"/>
<circle cx="238.38" cy="345.5" r="4.8" fill="#06A2C5"/>
<circle cx="249.81" cy="348.4" r="4.8" fill="#06A2C5"/>
<circle cx="261.23" cy="351.2" r="4.8" fill="#06A2C5"/>
<circle cx="284.08" cy="357.4" r="4.8" fill="#06A2C5"/>
<circle cx="329.78" cy="364.43" r="4.8" fill="#06A2C5"/>
<circle cx="352.63" cy="368.71" r="4.8" fill="#06A2C5"/>
<circle cx="375.48" cy="374.43" r="4.8" fill="#06A2C5"/>
<circle cx="398.32" cy="376.86" r="4.8" fill="#06A2C5"/>
<circle cx="129.85" cy="361.57" r="4.8" fill="#FF7B43"/>
<circle cx="135.56" cy="355.43" r="4.8" fill="#FF7B43"/>
<circle cx="141.28" cy="351.57" r="4.8" fill="#FF7B43"/>
<circle cx="146.99" cy="349.29" r="4.8" fill="#FF7B43"/>
<circle cx="152.7" cy="347.57" r="4.8" fill="#FF7B43"/>
<circle cx="158.41" cy="346.43" r="4.8" fill="#FF7B43"/>
<circle cx="164.13" cy="345.43" r="4.8" fill="#FF7B43"/>
<circle cx="169.84" cy="344.71" r="4.8" fill="#FF7B43"/>
<circle cx="181.26" cy="345.4" r="4.8" fill="#FF7B43"/>
<circle cx="192.69" cy="345.8" r="4.8" fill="#FF7B43"/>
<circle cx="204.11" cy="346.3" r="4.8" fill="#FF7B43"/>
<circle cx="215.53" cy="347.5" r="4.8" fill="#FF7B43"/>
<circle cx="226.96" cy="348.6" r="4.8" fill="#FF7B43"/>
<circle cx="238.38" cy="350" r="4.8" fill="#FF7B43"/>
<circle cx="249.81" cy="351.5" r="4.8" fill="#FF7B43"/>
<circle cx="261.23" cy="353.2" r="4.8" fill="#FF7B43"/>
<circle cx="284.08" cy="357" r="4.8" fill="#FF7B43"/>
<circle cx="329.78" cy="362.57" r="4.8" fill="#FF7B43"/>
<circle cx="352.63" cy="364.43" r="4.8" fill="#FF7B43"/>
<circle cx="375.48" cy="369" r="4.8" fill="#FF7B43"/>
<circle cx="398.32" cy="373.29" r="4.8" fill="#FF7B43"/>
<circle cx="466.87" cy="381.14" r="4.8" fill="#FF7B43"/>
<polyline points="124.14,384 129.85,384 135.56,367.29 141.28,362.57 146.99,359 152.7,356.86 158.41,354.43 164.13,353 169.84,351.14 181.26,347.57 192.69,344.8 204.11,341.14 215.53,341.14 226.96,342.57 238.38,345.5 249.81,348.4 261.23,351.2 284.08,357.4 329.78,364.43 352.63,368.71 375.48,374.43 398.32,376.86" fill="none" stroke="#06A2C5" stroke-width="2.2" stroke-linejoin="round" stroke-linecap="butt"/>
<polyline points="124.14,384 129.85,361.57 135.56,355.43 141.28,351.57 146.99,349.29 152.7,347.57 158.41,346.43 164.13,345.43 169.84,344.71 181.26,345.4 192.69,345.8 204.11,346.3 215.53,347.5 226.96,348.6 238.38,350 249.81,351.5 261.23,353.2 284.08,357 329.78,362.57 352.63,364.43 375.48,369 398.32,373.29 466.87,381.14" fill="none" stroke="#FF7B43" stroke-width="2.2" stroke-linejoin="round" stroke-linecap="butt"/>
</g>
<path d="M107 338.5V384H484" fill="none" stroke="#444444" stroke-width="1.45"/>
<path d="M99.7 341.4H107M99.7 362.6H107M99.7 383.8H107M124.14 384V391.3M238.38 384V391.3M352.63 384V391.3M466.87 384V391.3" stroke="#333333" stroke-width="2.8" fill="none"/>
<text transform="translate(92.6,349.4) scale(1,1.05)" font-size="22.4" fill="#4D4D4D" text-anchor="end">10.0</text>
<text transform="translate(92.6,370.6) scale(1,1.05)" font-size="22.4" fill="#4D4D4D" text-anchor="end">1.0</text>
<text transform="translate(92.6,391.8) scale(1,1.05)" font-size="22.4" fill="#4D4D4D" text-anchor="end">0.1</text>
<text transform="translate(124.14,414.4) scale(1,1.05)" font-size="22.4" fill="#4D4D4D" text-anchor="middle">0</text>
<text transform="translate(238.38,414.4) scale(1,1.05)" font-size="22.4" fill="#4D4D4D" text-anchor="middle">20</text>
<text transform="translate(352.63,414.4) scale(1,1.05)" font-size="22.4" fill="#4D4D4D" text-anchor="middle">40</text>
<text transform="translate(466.87,414.4) scale(1,1.05)" font-size="22.4" fill="#4D4D4D" text-anchor="middle">60</text>
</g>
<g id="p8">
<text transform="translate(745.5,324.1) scale(1,1)" font-size="23.3" fill="#1A1A1A" text-anchor="middle">id: 8</text>
<g clip-path="url(#c8)">
<line x1="574.64" x2="574.64" y1="338.5" y2="384" stroke="#000" stroke-width="2.8" stroke-dasharray="16.7 9 40 9"/>
<circle cx="583.21" cy="374.71" r="4.8" fill="#FF7B43"/>
<circle cx="591.78" cy="353" r="4.8" fill="#FF7B43"/>
<circle cx="600.34" cy="344" r="4.8" fill="#FF7B43"/>
<circle cx="608.91" cy="342.57" r="4.8" fill="#FF7B43"/>
<circle cx="617.48" cy="342.29" r="4.8" fill="#FF7B43"/>
<circle cx="626.05" cy="342.14" r="4.8" fill="#FF7B43"/>
<circle cx="634.62" cy="341.86" r="4.8" fill="#FF7B43"/>
<circle cx="643.19" cy="341.86" r="4.8" fill="#FF7B43"/>
<circle cx="660.32" cy="344.71" r="4.8" fill="#FF7B43"/>
<circle cx="677.46" cy="347.57" r="4.8" fill="#FF7B43"/>
<circle cx="694.6" cy="351.14" r="4.8" fill="#FF7B43"/>
<circle cx="711.73" cy="353.57" r="4.8" fill="#FF7B43"/>
<circle cx="728.87" cy="356.43" r="4.8" fill="#FF7B43"/>
<circle cx="746" cy="359.86" r="4.8" fill="#FF7B43"/>
<circle cx="763.14" cy="362.86" r="4.8" fill="#FF7B43"/>
<circle cx="780.28" cy="365.43" r="4.8" fill="#FF7B43"/>
<circle cx="814.55" cy="374.71" r="4.8" fill="#FF7B43"/>
<circle cx="883.1" cy="377.57" r="4.8" fill="#FF7B43"/>
<circle cx="917.37" cy="382.57" r="4.8" fill="#FF7B43"/>
<circle cx="591.78" cy="380.71" r="4.8" fill="#06A2C5"/>
<circle cx="600.34" cy="370.43" r="4.8" fill="#06A2C5"/>
<circle cx="608.91" cy="361.86" r="4.8" fill="#06A2C5"/>
<circle cx="617.48" cy="356.43" r="4.8" fill="#06A2C5"/>
<circle cx="626.05" cy="350.71" r="4.8" fill="#06A2C5"/>
<circle cx="634.62" cy="346.86" r="4.8" fill="#06A2C5"/>
<circle cx="643.19" cy="345" r="4.8" fill="#06A2C5"/>
<circle cx="660.32" cy="342.14" r="4.8" fill="#06A2C5"/>
<circle cx="677.46" cy="342.57" r="4.8" fill="#06A2C5"/>
<circle cx="694.6" cy="343" r="4.8" fill="#06A2C5"/>
<circle cx="711.73" cy="344" r="4.8" fill="#06A2C5"/>
<circle cx="728.87" cy="345.86" r="4.8" fill="#06A2C5"/>
<circle cx="746" cy="348.29" r="4.8" fill="#06A2C5"/>
<circle cx="763.14" cy="351.14" r="4.8" fill="#06A2C5"/>
<circle cx="780.28" cy="352.57" r="4.8" fill="#06A2C5"/>
<circle cx="814.55" cy="359" r="4.8" fill="#06A2C5"/>
<circle cx="883.1" cy="371.14" r="4.8" fill="#06A2C5"/>
<circle cx="917.37" cy="377.29" r="4.8" fill="#06A2C5"/>
<polyline points="574.64,384 583.21,374.71 591.78,353 600.34,344 608.91,342.57 617.48,342.29 626.05,342.14 634.62,341.86 643.19,341.86 660.32,344.71 677.46,347.57 694.6,351.14 711.73,353.57 728.87,356.43 746,359.86 763.14,362.86 780.28,365.43 814.55,374.71 883.1,377.57 917.37,382.57" fill="none" stroke="#FF7B43" stroke-width="2.2" stroke-linejoin="round" stroke-linecap="butt"/>
<polyline points="574.64,384 583.21,384 591.78,380.71 600.34,370.43 608.91,361.86 617.48,356.43 626.05,350.71 634.62,346.86 643.19,345 660.32,342.14 677.46,342.57 694.6,343 711.73,344 728.87,345.86 746,348.29 763.14,351.14 780.28,352.57 814.55,359 883.1,371.14 917.37,377.29" fill="none" stroke="#06A2C5" stroke-width="2.2" stroke-linejoin="round" stroke-linecap="butt"/>
</g>
<path d="M557.5 338.5V384H934.5" fill="none" stroke="#444444" stroke-width="1.45"/>
<path d="M550.2 343.4H557.5M550.2 355.9H557.5M550.2 369.6H557.5M550.2 382.1H557.5M574.64 384V391.3M660.32 384V391.3M746 384V391.3M831.69 384V391.3M917.37 384V391.3" stroke="#333333" stroke-width="2.8" fill="none"/>
<text transform="translate(543.1,351.4) scale(1,1.05)" font-size="22.4" fill="#4D4D4D" text-anchor="end">3.0</text>
<text transform="translate(543.1,363.9) scale(1,1.05)" font-size="22.4" fill="#4D4D4D" text-anchor="end">1.0</text>
<text transform="translate(543.1,377.6) scale(1,1.05)" font-size="22.4" fill="#4D4D4D" text-anchor="end">0.3</text>
<text transform="translate(543.1,390.1) scale(1,1.05)" font-size="22.4" fill="#4D4D4D" text-anchor="end">0.1</text>
<text transform="translate(574.64,414.4) scale(1,1.05)" font-size="22.4" fill="#4D4D4D" text-anchor="middle">0</text>
<text transform="translate(660.32,414.4) scale(1,1.05)" font-size="22.4" fill="#4D4D4D" text-anchor="middle">10</text>
<text transform="translate(746,414.4) scale(1,1.05)" font-size="22.4" fill="#4D4D4D" text-anchor="middle">20</text>
<text transform="translate(831.69,414.4) scale(1,1.05)" font-size="22.4" fill="#4D4D4D" text-anchor="middle">30</text>
<text transform="translate(917.37,414.4) scale(1,1.05)" font-size="22.4" fill="#4D4D4D" text-anchor="middle">40</text>
</g>
<g id="p9">
<text transform="translate(1196.3,324.1) scale(1,1)" font-size="23.3" fill="#1A1A1A" text-anchor="middle">id: 9</text>
<g clip-path="url(#c9)">
<line x1="1025.44" x2="1025.44" y1="338.5" y2="384" stroke="#000" stroke-width="2.8" stroke-dasharray="16.7 9 40 9"/>
<circle cx="1042.58" cy="380.14" r="4.8" fill="#06A2C5"/>
<circle cx="1048.29" cy="365.43" r="4.8" fill="#06A2C5"/>
<circle cx="1054" cy="361.57" r="4.8" fill="#06A2C5"/>
<circle cx="1059.71" cy="359.29" r="4.8" fill="#06A2C5"/>
<circle cx="1065.43" cy="357.57" r="4.8" fill="#06A2C5"/>
<circle cx="1071.14" cy="355.43" r="4.8" fill="#06A2C5"/>
<circle cx="1082.56" cy="349.9" r="4.8" fill="#06A2C5"/>
<circle cx="1093.99" cy="341.14" r="4.8" fill="#06A2C5"/>
<circle cx="1105.41" cy="344.8" r="4.8" fill="#06A2C5"/>
<circle cx="1116.83" cy="346.1" r="4.8" fill="#06A2C5"/>
<circle cx="1128.26" cy="346.9" r="4.8" fill="#06A2C5"/>
<circle cx="1139.68" cy="348.5" r="4.8" fill="#06A2C5"/>
<circle cx="1151.11" cy="351" r="4.8" fill="#06A2C5"/>
<circle cx="1162.53" cy="353.5" r="4.8" fill="#06A2C5"/>
<circle cx="1185.38" cy="358.7" r="4.8" fill="#06A2C5"/>
<circle cx="1231.08" cy="367.29" r="4.8" fill="#06A2C5"/>
<circle cx="1253.93" cy="369.71" r="4.8" fill="#06A2C5"/>
<circle cx="1276.78" cy="373.57" r="4.8" fill="#06A2C5"/>
<circle cx="1299.62" cy="376.43" r="4.8" fill="#06A2C5"/>
<circle cx="1031.15" cy="373.57" r="4.8" fill="#FF7B43"/>
<circle cx="1036.86" cy="355.86" r="4.8" fill="#FF7B43"/>
<circle cx="1042.58" cy="346.86" r="4.8" fill="#FF7B43"/>
<circle cx="1048.29" cy="345" r="4.8" fill="#FF7B43"/>
<circle cx="1054" cy="344" r="4.8" fill="#FF7B43"/>
<circle cx="1059.71" cy="343.71" r="4.8" fill="#FF7B43"/>
<circle cx="1065.43" cy="343.71" r="4.8" fill="#FF7B43"/>
<circle cx="1071.14" cy="343.6" r="4.8" fill="#FF7B43"/>
<circle cx="1082.56" cy="344.2" r="4.8" fill="#FF7B43"/>
<circle cx="1093.99" cy="344.6" r="4.8" fill="#FF7B43"/>
<circle cx="1105.41" cy="345.7" r="4.8" fill="#FF7B43"/>
<circle cx="1116.83" cy="347.2" r="4.8" fill="#FF7B43"/>
<circle cx="1128.26" cy="349" r="4.8" fill="#FF7B43"/>
<circle cx="1139.68" cy="349.7" r="4.8" fill="#FF7B43"/>
<circle cx="1151.11" cy="352.7" r="4.8" fill="#FF7B43"/>
<circle cx="1162.53" cy="354.4" r="4.8" fill="#FF7B43"/>
<circle cx="1185.38" cy="360" r="4.8" fill="#FF7B43"/>
<circle cx="1231.08" cy="364" r="4.8" fill="#FF7B43"/>
<circle cx="1253.93" cy="367.57" r="4.8" fill="#FF7B43"/>
<circle cx="1276.78" cy="370.14" r="4.8" fill="#FF7B43"/>
<circle cx="1299.62" cy="374" r="4.8" fill="#FF7B43"/>
<circle cx="1368.17" cy="381.57" r="4.8" fill="#FF7B43"/>
<polyline points="1025.44,384 1031.15,384 1036.86,384 1042.58,380.14 1048.29,365.43 1054,361.57 1059.71,359.29 1065.43,357.57 1071.14,355.43 1082.56,349.9 1093.99,341.14 1105.41,344.8 1116.83,346.1 1128.26,346.9 1139.68,348.5 1151.11,351 1162.53,353.5 1185.38,358.7 1231.08,367.29 1253.93,369.71 1276.78,373.57 1299.62,376.43" fill="none" stroke="#06A2C5" stroke-width="2.2" stroke-linejoin="round" stroke-linecap="butt"/>
<polyline points="1025.44,384 1031.15,373.57 1036.86,355.86 1042.58,346.86 1048.29,345 1054,344 1059.71,343.71 1065.43,343.71 1071.14,343.6 1082.56,344.2 1093.99,344.6 1105.41,345.7 1116.83,347.2 1128.26,349 1139.68,349.7 1151.11,352.7 1162.53,354.4 1185.38,360 1231.08,364 1253.93,367.57 1276.78,370.14 1299.62,374 1368.17,381.57" fill="none" stroke="#FF7B43" stroke-width="2.2" stroke-linejoin="round" stroke-linecap="butt"/>
</g>
<path d="M1008.3 338.5V384H1385.3" fill="none" stroke="#444444" stroke-width="1.45"/>
<path d="M1001 339.5H1008.3M1001 352H1008.3M1001 363.6H1008.3M1001 376.2H1008.3M1025.44 384V391.3M1139.68 384V391.3M1253.93 384V391.3M1368.17 384V391.3" stroke="#333333" stroke-width="2.8" fill="none"/>
<text transform="translate(993.9,347.5) scale(1,1.05)" font-size="22.4" fill="#4D4D4D" text-anchor="end">10.0</text>
<text transform="translate(993.9,360) scale(1,1.05)" font-size="22.4" fill="#4D4D4D" text-anchor="end">3.0</text>
<text transform="translate(993.9,371.6) scale(1,1.05)" font-size="22.4" fill="#4D4D4D" text-anchor="end">1.0</text>
<text transform="translate(993.9,384.2) scale(1,1.05)" font-size="22.4" fill="#4D4D4D" text-anchor="end">0.3</text>
<text transform="translate(1025.44,414.4) scale(1,1.05)" font-size="22.4" fill="#4D4D4D" text-anchor="middle">0</text>
<text transform="translate(1139.68,414.4) scale(1,1.05)" font-size="22.4" fill="#4D4D4D" text-anchor="middle">20</text>
<text transform="translate(1253.93,414.4) scale(1,1.05)" font-size="22.4" fill="#4D4D4D" text-anchor="middle">40</text>
<text transform="translate(1368.17,414.4) scale(1,1.05)" font-size="22.4" fill="#4D4D4D" text-anchor="middle">60</text>
</g>
<g id="p10">
<text transform="translate(295,463.6) scale(1,1)" font-size="23.3" fill="#1A1A1A" text-anchor="middle">id: 10</text>
<g clip-path="url(#c10)">
<line x1="124.14" x2="124.14" y1="478" y2="523.5" stroke="#000" stroke-width="2.8" stroke-dasharray="16.7 9 40 9"/>
<circle cx="139.72" cy="508" r="4.8" fill="#06A2C5"/>
<circle cx="147.51" cy="500.57" r="4.8" fill="#06A2C5"/>
<circle cx="155.3" cy="495.86" r="4.8" fill="#06A2C5"/>
<circle cx="163.09" cy="493" r="4.8" fill="#06A2C5"/>
<circle cx="170.88" cy="489.43" r="4.8" fill="#06A2C5"/>
<circle cx="178.67" cy="486.57" r="4.8" fill="#06A2C5"/>
<circle cx="186.45" cy="482.29" r="4.8" fill="#06A2C5"/>
<circle cx="202.03" cy="480.71" r="4.8" fill="#06A2C5"/>
<circle cx="217.61" cy="481.71" r="4.8" fill="#06A2C5"/>
<circle cx="233.19" cy="483.1" r="4.8" fill="#06A2C5"/>
<circle cx="248.77" cy="485.6" r="4.8" fill="#06A2C5"/>
<circle cx="264.35" cy="487.6" r="4.8" fill="#06A2C5"/>
<circle cx="279.93" cy="490.5" r="4.8" fill="#06A2C5"/>
<circle cx="295.5" cy="493.7" r="4.8" fill="#06A2C5"/>
<circle cx="311.08" cy="496.7" r="4.8" fill="#06A2C5"/>
<circle cx="342.24" cy="501.14" r="4.8" fill="#06A2C5"/>
<circle cx="404.56" cy="509.71" r="4.8" fill="#06A2C5"/>
<circle cx="435.71" cy="513.71" r="4.8" fill="#06A2C5"/>
<circle cx="466.87" cy="519.71" r="4.8" fill="#06A2C5"/>
<circle cx="131.93" cy="521.14" r="4.8" fill="#FF7B43"/>
<circle cx="139.72" cy="498.71" r="4.8" fill="#FF7B43"/>
<circle cx="147.51" cy="488" r="4.8" fill="#FF7B43"/>
<circle cx="155.3" cy="485.86" r="4.8" fill="#FF7B43"/>
<circle cx="163.09" cy="483" r="4.8" fill="#FF7B43"/>
<circle cx="170.88" cy="481.57" r="4.8" fill="#FF7B43"/>
<circle cx="178.67" cy="481.14" r="4.8" fill="#FF7B43"/>
<circle cx="186.45" cy="482.29" r="4.8" fill="#FF7B43"/>
<circle cx="202.03" cy="483.2" r="4.8" fill="#FF7B43"/>
<circle cx="217.61" cy="484" r="4.8" fill="#FF7B43"/>
<circle cx="233.19" cy="485.7" r="4.8" fill="#FF7B43"/>
<circle cx="248.77" cy="488" r="4.8" fill="#FF7B43"/>
<circle cx="264.35" cy="490" r="4.8" fill="#FF7B43"/>
<circle cx="279.93" cy="492" r="4.8" fill="#FF7B43"/>
<circle cx="295.5" cy="494.4" r="4.8" fill="#FF7B43"/>
<circle cx="311.08" cy="497.7" r="4.8" fill="#FF7B43"/>
<circle cx="342.24" cy="504.43" r="4.8" fill="#FF7B43"/>
<circle cx="404.56" cy="513.71" r="4.8" fill="#FF7B43"/>
<circle cx="435.71" cy="518" r="4.8" fill="#FF7B43"/>
<polyline points="124.14,523.5 131.93,523.5 139.72,508 147.51,500.57 155.3,495.86 163.09,493 170.88,489.43 178.67,486.57 186.45,482.29 202.03,480.71 217.61,481.71 233.19,483.1 248.77,485.6 264.35,487.6 279.93,490.5 295.5,493.7 311.08,496.7 342.24,501.14 404.56,509.71 435.71,513.71 466.87,519.71" fill="none" stroke="#06A2C5" stroke-width="2.2" stroke-linejoin="round" stroke-linecap="butt"/>
<polyline points="124.14,523.5 131.93,521.14 139.72,498.71 147.51,488 155.3,485.86 163.09,483 170.88,481.57 178.67,481.14 186.45,482.29 202.03,483.2 217.61,484 233.19,485.7 248.77,488 264.35,490 279.93,492 295.5,494.4 311.08,497.7 342.24,504.43 404.56,513.71 435.71,518" fill="none" stroke="#FF7B43" stroke-width="2.2" stroke-linejoin="round" stroke-linecap="butt"/>
</g>
<path d="M107 478V523.5H484" fill="none" stroke="#444444" stroke-width="1.45"/>
<path d="M99.7 480.2H107M99.7 501.8H107M99.7 523.5H107M124.14 523.5V530.8M202.03 523.5V530.8M279.93 523.5V530.8M357.82 523.5V530.8M435.71 523.5V530.8" stroke="#333333" stroke-width="2.8" fill="none"/>
<text transform="translate(92.6,488.2) scale(1,1.05)" font-size="22.4" fill="#4D4D4D" text-anchor="end">10.0</text>
<text transform="translate(92.6,509.8) scale(1,1.05)" font-size="22.4" fill="#4D4D4D" text-anchor="end">1.0</text>
<text transform="translate(92.6,531.5) scale(1,1.05)" font-size="22.4" fill="#4D4D4D" text-anchor="end">0.1</text>
<text transform="translate(124.14,553.9) scale(1,1.05)" font-size="22.4" fill="#4D4D4D" text-anchor="middle">0</text>
<text transform="translate(202.03,553.9) scale(1,1.05)" font-size="22.4" fill="#4D4D4D" text-anchor="middle">10</text>
<text transform="translate(279.93,553.9) scale(1,1.05)" font-size="22.4" fill="#4D4D4D" text-anchor="middle">20</text>
<text transform="translate(357.82,553.9) scale(1,1.05)" font-size="22.4" fill="#4D4D4D" text-anchor="middle">30</text>
<text transform="translate(435.71,553.9) scale(1,1.05)" font-size="22.4" fill="#4D4D4D" text-anchor="middle">40</text>
</g>
<g id="p11">
<text transform="translate(745.5,463.6) scale(1,1)" font-size="23.3" fill="#1A1A1A" text-anchor="middle">id: 11</text>
<g clip-path="url(#c11)">
<line x1="574.64" x2="574.64" y1="478" y2="523.5" stroke="#000" stroke-width="2.8" stroke-dasharray="16.7 9 40 9"/>
<circle cx="581.78" cy="509.71" r="4.8" fill="#FF7B43"/>
<circle cx="588.92" cy="495.43" r="4.8" fill="#FF7B43"/>
<circle cx="596.06" cy="487.29" r="4.8" fill="#FF7B43"/>
<circle cx="603.2" cy="484.86" r="4.8" fill="#FF7B43"/>
<circle cx="610.34" cy="483.43" r="4.8" fill="#FF7B43"/>
<circle cx="617.48" cy="482.29" r="4.8" fill="#FF7B43"/>
<circle cx="624.62" cy="483.71" r="4.8" fill="#FF7B43"/>
<circle cx="631.76" cy="485.14" r="4.8" fill="#FF7B43"/>
<circle cx="646.04" cy="485.86" r="4.8" fill="#FF7B43"/>
<circle cx="660.32" cy="486.86" r="4.8" fill="#FF7B43"/>
<circle cx="674.6" cy="487.71" r="4.8" fill="#FF7B43"/>
<circle cx="688.88" cy="489.43" r="4.8" fill="#FF7B43"/>
<circle cx="703.16" cy="491.57" r="4.8" fill="#FF7B43"/>
<circle cx="717.44" cy="494" r="4.8" fill="#FF7B43"/>
<circle cx="731.72" cy="496.57" r="4.8" fill="#FF7B43"/>
<circle cx="746" cy="498.71" r="4.8" fill="#FF7B43"/>
<circle cx="774.57" cy="503" r="4.8" fill="#FF7B43"/>
<circle cx="831.69" cy="511.57" r="4.8" fill="#FF7B43"/>
<circle cx="860.25" cy="513" r="4.8" fill="#FF7B43"/>
<circle cx="888.81" cy="515.86" r="4.8" fill="#FF7B43"/>
<circle cx="917.37" cy="521.14" r="4.8" fill="#FF7B43"/>
<circle cx="588.92" cy="508.29" r="4.8" fill="#06A2C5"/>
<circle cx="596.06" cy="502.29" r="4.8" fill="#06A2C5"/>
<circle cx="603.2" cy="498.29" r="4.8" fill="#06A2C5"/>
<circle cx="610.34" cy="492.57" r="4.8" fill="#06A2C5"/>
<circle cx="617.48" cy="486.57" r="4.8" fill="#06A2C5"/>
<circle cx="624.62" cy="482" r="4.8" fill="#06A2C5"/>
<circle cx="631.76" cy="480.57" r="4.8" fill="#06A2C5"/>
<circle cx="646.04" cy="480.14" r="4.8" fill="#06A2C5"/>
<circle cx="660.32" cy="480.57" r="4.8" fill="#06A2C5"/>
<circle cx="674.6" cy="481.14" r="4.8" fill="#06A2C5"/>
<circle cx="688.88" cy="483" r="4.8" fill="#06A2C5"/>
<circle cx="703.16" cy="485.43" r="4.8" fill="#06A2C5"/>
<circle cx="717.44" cy="487.71" r="4.8" fill="#06A2C5"/>
<circle cx="731.72" cy="489.71" r="4.8" fill="#06A2C5"/>
<circle cx="746" cy="493" r="4.8" fill="#06A2C5"/>
<circle cx="774.57" cy="500.14" r="4.8" fill="#06A2C5"/>
<circle cx="831.69" cy="509.43" r="4.8" fill="#06A2C5"/>
<circle cx="860.25" cy="513" r="4.8" fill="#06A2C5"/>
<circle cx="888.81" cy="518.29" r="4.8" fill="#06A2C5"/>
<circle cx="917.37" cy="521.14" r="4.8" fill="#06A2C5"/>
<polyline points="574.64,523.5 581.78,509.71 588.92,495.43 596.06,487.29 603.2,484.86 610.34,483.43 617.48,482.29 624.62,483.71 631.76,485.14 646.04,485.86 660.32,486.86 674.6,487.71 688.88,489.43 703.16,491.57 717.44,494 731.72,496.57 746,498.71 774.57,503 831.69,511.57 860.25,513 888.81,515.86 917.37,521.14" fill="none" stroke="#FF7B43" stroke-width="2.2" stroke-linejoin="round" stroke-linecap="butt"/>
<polyline points="574.64,523.5 581.78,523.5 588.92,508.29 596.06,502.29 603.2,498.29 610.34,492.57 617.48,486.57 624.62,482 631.76,480.57 646.04,480.14 660.32,480.57 674.6,481.14 688.88,483 703.16,485.43 717.44,487.71 731.72,489.71 746,493 774.57,500.14 831.69,509.43 860.25,513 888.81,518.29 917.37,521.14" fill="none" stroke="#06A2C5" stroke-width="2.2" stroke-linejoin="round" stroke-linecap="butt"/>
</g>
<path d="M557.5 478V523.5H934.5" fill="none" stroke="#444444" stroke-width="1.45"/>
<path d="M550.2 489.5H557.5M550.2 502H557.5M550.2 515.7H557.5M574.64 523.5V530.8M646.04 523.5V530.8M717.44 523.5V530.8M788.85 523.5V530.8M860.25 523.5V530.8M931.65 523.5V530.8" stroke="#333333" stroke-width="2.8" fill="none"/>
<text transform="translate(543.1,497.5) scale(1,1.05)" font-size="22.4" fill="#4D4D4D" text-anchor="end">3.0</text>
<text transform="translate(543.1,510) scale(1,1.05)" font-size="22.4" fill="#4D4D4D" text-anchor="end">1.0</text>
<text transform="translate(543.1,523.7) scale(1,1.05)" font-size="22.4" fill="#4D4D4D" text-anchor="end">0.3</text>
<text transform="translate(574.64,553.9) scale(1,1.05)" font-size="22.4" fill="#4D4D4D" text-anchor="middle">0</text>
<text transform="translate(646.04,553.9) scale(1,1.05)" font-size="22.4" fill="#4D4D4D" text-anchor="middle">10</text>
<text transform="translate(717.44,553.9) scale(1,1.05)" font-size="22.4" fill="#4D4D4D" text-anchor="middle">20</text>
<text transform="translate(788.85,553.9) scale(1,1.05)" font-size="22.4" fill="#4D4D4D" text-anchor="middle">30</text>
<text transform="translate(860.25,553.9) scale(1,1.05)" font-size="22.4" fill="#4D4D4D" text-anchor="middle">40</text>
<text transform="translate(931.65,553.9) scale(1,1.05)" font-size="22.4" fill="#4D4D4D" text-anchor="middle">50</text>
</g>
<g id="p12">
<text transform="translate(1196.3,463.6) scale(1,1)" font-size="23.3" fill="#1A1A1A" text-anchor="middle">id: 12</text>
<g clip-path="url(#c12)">
<line x1="1025.44" x2="1025.44" y1="478" y2="523.5" stroke="#000" stroke-width="2.8" stroke-dasharray="16.7 9 40 9"/>
<circle cx="1034.96" cy="506.57" r="4.8" fill="#06A2C5"/>
<circle cx="1039.72" cy="500.57" r="4.8" fill="#06A2C5"/>
<circle cx="1044.48" cy="493.9" r="4.8" fill="#06A2C5"/>
<circle cx="1049.24" cy="488.5" r="4.8" fill="#06A2C5"/>
<circle cx="1054" cy="484.86" r="4.8" fill="#06A2C5"/>
<circle cx="1058.76" cy="481.57" r="4.8" fill="#06A2C5"/>
<circle cx="1063.52" cy="480.57" r="4.8" fill="#06A2C5"/>
<circle cx="1073.04" cy="480.86" r="4.8" fill="#06A2C5"/>
<circle cx="1082.56" cy="480.57" r="4.8" fill="#06A2C5"/>
<circle cx="1092.08" cy="480.86" r="4.8" fill="#06A2C5"/>
<circle cx="1101.6" cy="481.14" r="4.8" fill="#06A2C5"/>
<circle cx="1111.12" cy="482.6" r="4.8" fill="#06A2C5"/>
<circle cx="1120.64" cy="485.2" r="4.8" fill="#06A2C5"/>
<circle cx="1130.16" cy="486.4" r="4.8" fill="#06A2C5"/>
<circle cx="1139.68" cy="487.8" r="4.8" fill="#06A2C5"/>
<circle cx="1158.72" cy="490.2" r="4.8" fill="#06A2C5"/>
<circle cx="1196.81" cy="495.57" r="4.8" fill="#06A2C5"/>
<circle cx="1215.85" cy="498" r="4.8" fill="#06A2C5"/>
<circle cx="1234.89" cy="500.86" r="4.8" fill="#06A2C5"/>
<circle cx="1253.93" cy="503.43" r="4.8" fill="#06A2C5"/>
<circle cx="1311.05" cy="511.57" r="4.8" fill="#06A2C5"/>
<circle cx="1368.17" cy="521.14" r="4.8" fill="#06A2C5"/>
<circle cx="1030.2" cy="512.29" r="4.8" fill="#FF7B43"/>
<circle cx="1034.96" cy="500.14" r="4.8" fill="#FF7B43"/>
<circle cx="1039.72" cy="492.3" r="4.8" fill="#FF7B43"/>
<circle cx="1044.48" cy="488.71" r="4.8" fill="#FF7B43"/>
<circle cx="1049.24" cy="485.8" r="4.8" fill="#FF7B43"/>
<circle cx="1054" cy="484" r="4.8" fill="#FF7B43"/>
<circle cx="1058.76" cy="483.43" r="4.8" fill="#FF7B43"/>
<circle cx="1063.52" cy="483" r="4.8" fill="#FF7B43"/>
<circle cx="1073.04" cy="481.3" r="4.8" fill="#FF7B43"/>
<circle cx="1082.56" cy="481" r="4.8" fill="#FF7B43"/>
<circle cx="1092.08" cy="481.2" r="4.8" fill="#FF7B43"/>
<circle cx="1101.6" cy="482.2" r="4.8" fill="#FF7B43"/>
<circle cx="1111.12" cy="483.7" r="4.8" fill="#FF7B43"/>
<circle cx="1120.64" cy="485" r="4.8" fill="#FF7B43"/>
<circle cx="1130.16" cy="486.2" r="4.8" fill="#FF7B43"/>
<circle cx="1139.68" cy="487.71" r="4.8" fill="#FF7B43"/>
<circle cx="1158.72" cy="491.14" r="4.8" fill="#FF7B43"/>
<circle cx="1196.81" cy="494.71" r="4.8" fill="#FF7B43"/>
<circle cx="1215.85" cy="496.57" r="4.8" fill="#FF7B43"/>
<circle cx="1234.89" cy="500.14" r="4.8" fill="#FF7B43"/>
<circle cx="1253.93" cy="502.57" r="4.8" fill="#FF7B43"/>
<circle cx="1311.05" cy="510.57" r="4.8" fill="#FF7B43"/>
<circle cx="1368.17" cy="519.14" r="4.8" fill="#FF7B43"/>
<polyline points="1025.44,523.5 1030.2,523.5 1034.96,506.57 1039.72,500.57 1044.48,493.9 1049.24,488.5 1054,484.86 1058.76,481.57 1063.52,480.57 1073.04,480.86 1082.56,480.57 1092.08,480.86 1101.6,481.14 1111.12,482.6 1120.64,485.2 1130.16,486.4 1139.68,487.8 1158.72,490.2 1196.81,495.57 1215.85,498 1234.89,500.86 1253.93,503.43 1311.05,511.57 1368.17,521.14" fill="none" stroke="#06A2C5" stroke-width="2.2" stroke-linejoin="round" stroke-linecap="butt"/>
<polyline points="1025.44,523.5 1030.2,512.29 1034.96,500.14 1039.72,492.3 1044.48,488.71 1049.24,485.8 1054,484 1058.76,483.43 1063.52,483 1073.04,481.3 1082.56,481 1092.08,481.2 1101.6,482.2 1111.12,483.7 1120.64,485 1130.16,486.2 1139.68,487.71 1158.72,491.14 1196.81,494.71 1215.85,496.57 1234.89,500.14 1253.93,502.57 1311.05,510.57 1368.17,519.14" fill="none" stroke="#FF7B43" stroke-width="2.2" stroke-linejoin="round" stroke-linecap="butt"/>
</g>
<path d="M1008.3 478V523.5H1385.3" fill="none" stroke="#444444" stroke-width="1.45"/>
<path d="M1001 480.55H1008.3M1001 492.4H1008.3M1001 503H1008.3M1001 514.55H1008.3M1025.44 523.5V530.8M1120.64 523.5V530.8M1215.85 523.5V530.8M1311.05 523.5V530.8" stroke="#333333" stroke-width="2.8" fill="none"/>
<text transform="translate(993.9,488.55) scale(1,1.05)" font-size="22.4" fill="#4D4D4D" text-anchor="end">10.0</text>
<text transform="translate(993.9,500.4) scale(1,1.05)" font-size="22.4" fill="#4D4D4D" text-anchor="end">3.0</text>
<text transform="translate(993.9,511) scale(1,1.05)" font-size="22.4" fill="#4D4D4D" text-anchor="end">1.0</text>
<text transform="translate(993.9,522.55) scale(1,1.05)" font-size="22.4" fill="#4D4D4D" text-anchor="end">0.3</text>
<text transform="translate(1025.44,553.9) scale(1,1.05)" font-size="22.4" fill="#4D4D4D" text-anchor="middle">0</text>
<text transform="translate(1120.64,553.9) scale(1,1.05)" font-size="22.4" fill="#4D4D4D" text-anchor="middle">20</text>
<text transform="translate(1215.85,553.9) scale(1,1.05)" font-size="22.4" fill="#4D4D4D" text-anchor="middle">40</text>
<text transform="translate(1311.05,553.9) scale(1,1.05)" font-size="22.4" fill="#4D4D4D" text-anchor="middle">60</text>
</g>
<text x="746.9" y="587.0" font-size="29.33" fill="#000" text-anchor="middle">time</text>
<text transform="translate(36.4,291.0) rotate(-90)" font-size="29.2" fill="#000" text-anchor="middle">Theophylline concentration (ug/mL)</text>
<text x="649.8" y="645.2" font-size="29.1" fill="#000">Observed data</text>
<circle cx="669" cy="681.3" r="5" fill="#06A2C5"/><circle cx="669" cy="719.1" r="5" fill="#FF7B43"/>
<text x="702" y="690" font-size="23.47" fill="#000">FORM:ref</text>
<text x="702" y="727.8" font-size="23.47" fill="#000">FORM:test</text>
</svg>
</body></html>
